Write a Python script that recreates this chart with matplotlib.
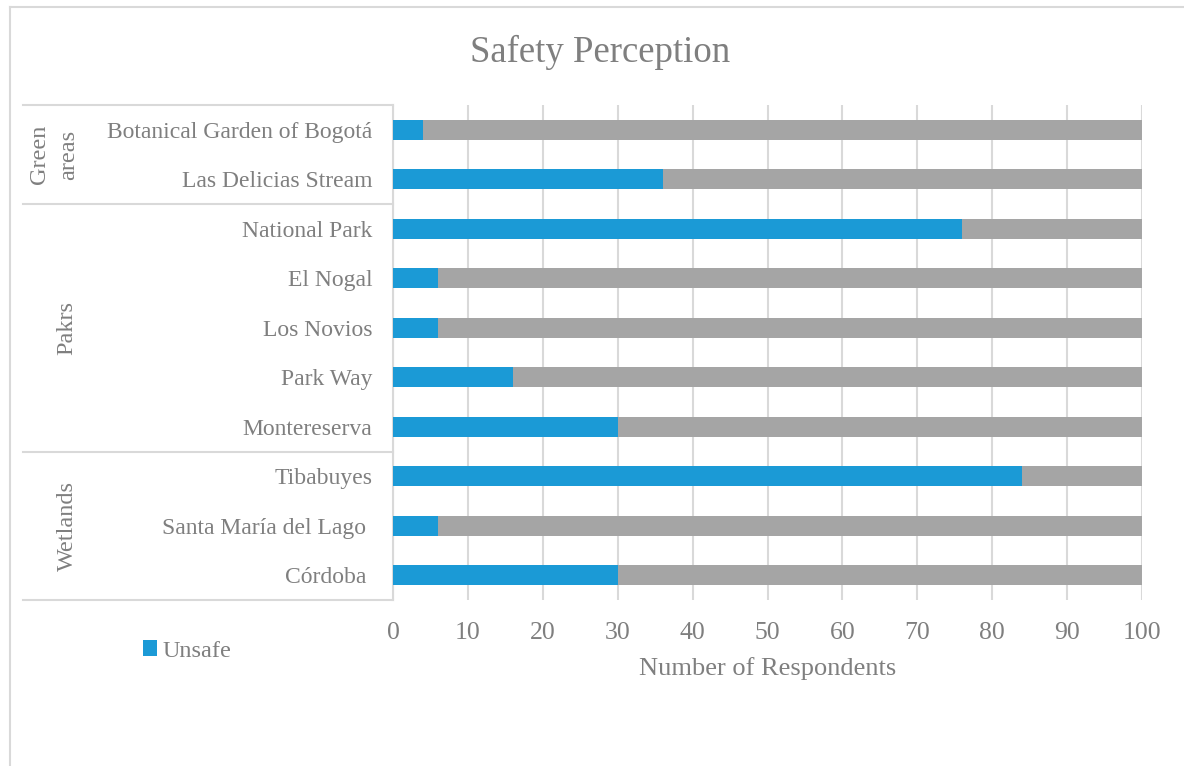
import matplotlib.pyplot as plt
from matplotlib.lines import Line2D

plt.rcParams['font.family'] = ['Liberation Serif', 'DejaVu Serif']

places = ['Botanical Garden of Bogotá', 'Las Delicias Stream', 'National Park', 'El Nogal',
          'Los Novios', 'Park Way', 'Montereserva', 'Tibabuyes', 'Santa María del Lago ',
          'Córdoba ']
unsafe = [4, 36, 76, 6, 6, 16, 30, 84, 6, 30]
safe = [96, 64, 24, 94, 94, 84, 70, 16, 94, 70]
groups = ['Green\nareas', 'Pakrs', 'Wetlands']
group_sizes = [2, 5, 3]

txt = '#7f7f7f'
line_c = '#d9d9d9'
blue = '#1b9ad6'
grey = '#a5a5a5'

W, H = 1184, 766
fig = plt.figure(figsize=(W / 100, H / 100), dpi=100)

# outer frame (only left and top visible)
fig.add_artist(Line2D([10 / W, 10 / W], [0, 1 - 7 / H], color=line_c, lw=1.5))
fig.add_artist(Line2D([10 / W, 1], [1 - 7 / H, 1 - 7 / H], color=line_c, lw=1.5))

ax = fig.add_axes([393 / W, 1 - 600 / H, (1142 - 393) / W, (600 - 105) / H])
y = list(range(len(places)))
ax.barh(y, unsafe, height=0.4, color=blue, label='Unsafe', zorder=3)
ax.barh(y, safe, left=unsafe, height=0.4, color=grey, zorder=3)

ax.set_xlim(0, 100)
ax.set_ylim(len(places) - 0.5, -0.5)
ax.set_xticks(range(0, 101, 10))
ax.set_yticks(y)
ax.set_yticklabels(places)
ax.tick_params(axis='both', length=0, colors=txt)
ax.tick_params(axis='x', pad=16, labelsize=18.5)
ax.tick_params(axis='y', pad=15, labelsize=17)
ax.grid(axis='x', color=line_c, lw=1.5, zorder=0)
for s in ['top', 'right', 'bottom']:
    ax.spines[s].set_visible(False)
ax.spines['left'].set_color(line_c)
ax.spines['left'].set_linewidth(1.5)
ax.set_xlabel('Number of Respondents', color=txt, fontsize=19, labelpad=9)

# group table on the left
tr = ax.get_yaxis_transform()
span = 1142 - 393
x0 = (23 - 393) / span
start = -0.5
ax.plot([x0, 0], [start, start], transform=tr, color=line_c, lw=1.5, clip_on=False)
for g, n in zip(groups, group_sizes):
    end = start + n
    ax.plot([x0, 0], [end, end], transform=tr, color=line_c, lw=1.5, clip_on=False)
    xg = (54 - 393) / span if '\n' in g else (67 - 393) / span
    ax.text(xg, (start + end) / 2, g, transform=tr, rotation=90, ha='center', va='center',
            color=txt, fontsize=17.5, linespacing=1.5)
    start = end

fig.text(600 / W, 1 - 52 / H, 'Safety Perception', ha='center', va='center',
         color=txt, fontsize=26.5)

fig.legend(loc='center left', bbox_to_anchor=(133 / W, 1 - 651 / H), frameon=False,
           fontsize=17.5, labelcolor=txt, handlelength=0.6, handleheight=0.6,
           handletextpad=0.2, borderaxespad=0)

fig.savefig('out.png', dpi=100)
